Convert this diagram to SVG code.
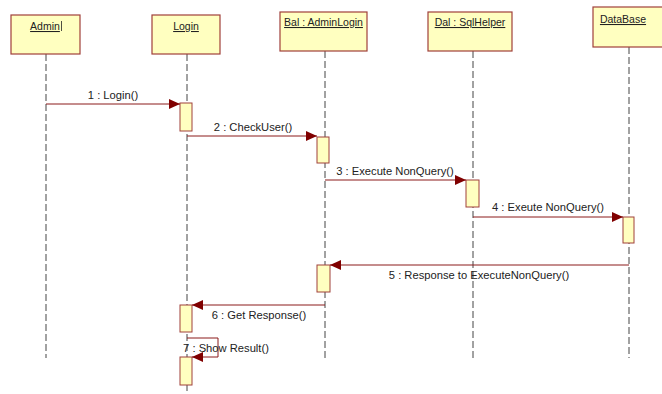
<svg xmlns="http://www.w3.org/2000/svg" width="662" height="394" viewBox="0 0 662 394">
<defs>
<marker id="arr" markerWidth="12" markerHeight="10" refX="11" refY="5" orient="auto" markerUnits="userSpaceOnUse">
<path d="M0,0 L11,5 L0,10 Z" fill="#800000"/>
</marker>
</defs>
<style>
.box{fill:#FFFFC0;stroke:#A0403A;stroke-width:1.2}
.act{fill:#FFFFC0;stroke:#A0403A;stroke-width:1}
.life{stroke:#444;stroke-width:1;stroke-dasharray:7,3;fill:none}
.msg{stroke:#8B1A1A;stroke-width:1;fill:none;marker-end:url(#arr)}
.t{font-family:"Liberation Sans",Arial,sans-serif;font-size:11.2px;fill:#222;text-anchor:middle}
.n{font-family:"Liberation Sans",Arial,sans-serif;font-size:10.5px;fill:#222;text-decoration:underline;text-anchor:middle}
</style>
<rect width="662" height="394" fill="#fff"/>
<g id="lifelines">
<line class="life" x1="46" y1="54" x2="46" y2="358"/>
<line class="life" x1="187" y1="54" x2="187" y2="394"/>
<line class="life" x1="325" y1="51" x2="325" y2="361"/>
<line class="life" x1="473" y1="51" x2="473" y2="361"/>
<line class="life" x1="629" y1="47" x2="629" y2="358"/>
</g>
<g id="admin">
<rect class="box" x="11" y="15" width="69" height="39"/>
<text class="n" x="45" y="30">Admin</text>
<line x1="61.5" y1="21" x2="61.5" y2="31" stroke="#222" stroke-width="0.8"/>
</g>
<g id="login">
<rect class="box" x="152" y="15" width="68" height="39"/>
<text class="n" x="186" y="30">Login</text>
</g>
<g id="bal">
<rect class="box" x="280" y="12" width="87" height="39"/>
<text class="n" x="323.5" y="26">Bal : AdminLogin</text>
</g>
<g id="dal">
<rect class="box" x="428" y="12" width="84" height="39"/>
<text class="n" x="470" y="26">Dal : SqlHelper</text>
</g>
<g id="database">
<rect class="box" x="593" y="7" width="75" height="40"/>
<text class="n" x="623" y="23">DataBase</text>
</g>
<g id="activations">
<rect class="act" x="180" y="103" width="12" height="28"/>
<rect class="act" x="317" y="137" width="12" height="26"/>
<rect class="act" x="466" y="180" width="13" height="27"/>
<rect class="act" x="623" y="217" width="11" height="26"/>
<rect class="act" x="317" y="265" width="13" height="27"/>
<rect class="act" x="180" y="305" width="12" height="27"/>
<rect class="act" x="180" y="357" width="12" height="28"/>
</g>
<g id="connectors">
<line class="msg" x1="46" y1="104" x2="180" y2="104"/>
<line class="msg" x1="187" y1="136" x2="317" y2="136"/>
<line class="msg" x1="325" y1="180" x2="466" y2="180"/>
<line class="msg" x1="473" y1="217" x2="623" y2="217"/>
<line class="msg" x1="629" y1="265" x2="330" y2="265"/>
<line class="msg" x1="325" y1="305" x2="192" y2="305"/>
<polyline class="msg" points="187,338 218,338 218,357 192,357"/>
</g>
<g id="labels">
<text class="t" x="113" y="99">1 : Login()</text>
<text class="t" x="253" y="131">2 : CheckUser()</text>
<text class="t" x="395" y="175">3 : Execute NonQuery()</text>
<text class="t" x="548" y="211">4 : Exeute NonQuery()</text>
<text class="t" x="479" y="279">5 : Response to ExecuteNonQuery()</text>
<text class="t" x="259" y="319">6 : Get Response()</text>
<text class="t" x="226" y="352">7 : Show Result()</text>
</g>
</svg>
